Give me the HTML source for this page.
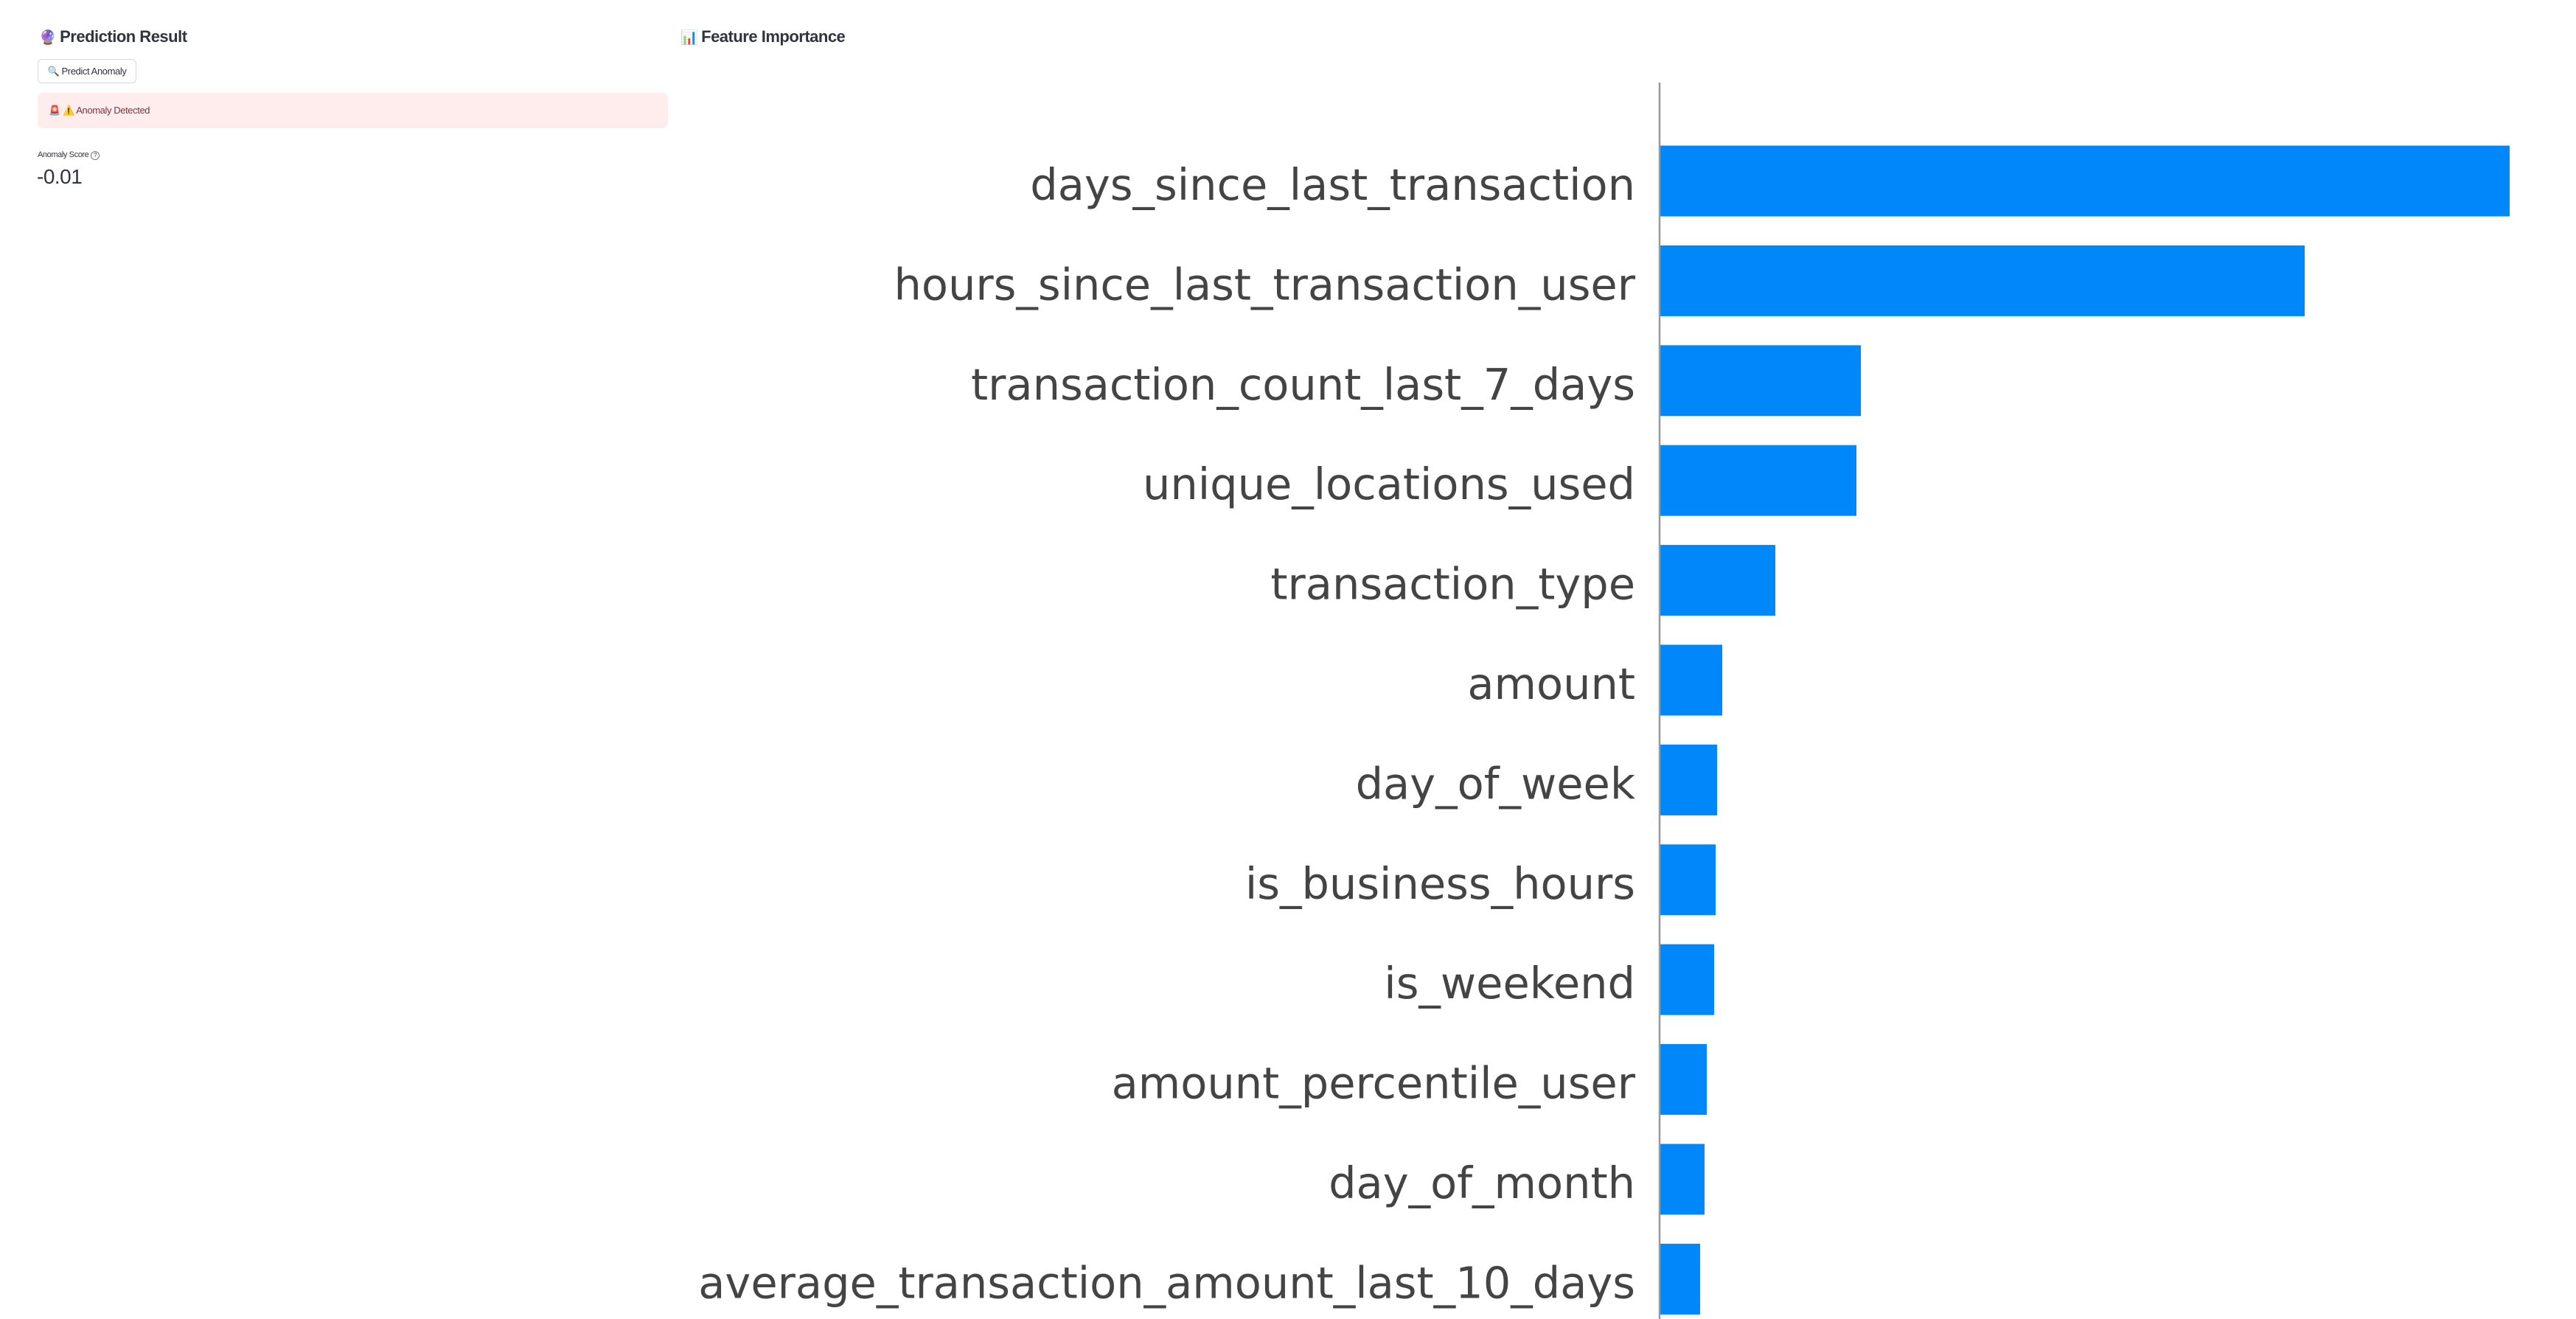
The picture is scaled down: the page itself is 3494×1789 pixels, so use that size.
<!DOCTYPE html>
<html>
<head>
<meta charset="utf-8">
<style>
  html,body{margin:0;padding:0;background:#fff;}
  body{width:3494px;height:1789px;position:relative;overflow:hidden;font-family:"Liberation Sans",sans-serif;color:#31333f;}
  .abs{position:absolute;}
  h2{margin:0;font-weight:600;font-size:22px;letter-spacing:-0.5px;}
</style>
</head>
<body>
<div class="abs" style="left:53px;top:34px;height:32px;line-height:32px;">
  <span style="font-size:19px;">🔮</span>
  <h2 style="display:inline;">Prediction Result</h2>
</div>
<div class="abs" style="left:51px;top:80px;width:132px;height:31px;border:1px solid #d6d6d9;border-radius:6px;font-size:13px;line-height:31px;text-align:center;letter-spacing:-0.4px;">🔍 Predict Anomaly</div>
<div class="abs" style="left:51px;top:126px;width:855px;height:48px;background:#ffecec;border-radius:7px;font-size:13px;line-height:48px;color:#7d353b;letter-spacing:-0.4px;">
  <span style="margin-left:15px;">🚨 ⚠️ Anomaly Detected</span>
</div>
<div class="abs" style="left:51px;top:200px;font-size:11px;line-height:20px;letter-spacing:-0.4px;">Anomaly Score <span style="display:inline-block;width:10px;height:10px;border:1px solid #777;border-radius:50%;font-size:8px;line-height:10px;text-align:center;">?</span></div>
<div class="abs" style="left:50px;top:221px;font-size:28px;line-height:38px;letter-spacing:-0.5px;">-0.01</div>

<div class="abs" style="left:923px;top:34px;height:32px;line-height:32px;">
  <span style="font-size:19px;">📊</span>
  <h2 style="display:inline;">Feature Importance</h2>
</div>

<svg class="abs" style="left:0;top:0;" width="3494" height="1789" id="chart"></svg>
<script>
const features = ["days_since_last_transaction","hours_since_last_transaction_user","transaction_count_last_7_days","unique_locations_used","transaction_type","amount","day_of_week","is_business_hours","is_weekend","amount_percentile_user","day_of_month","average_transaction_amount_last_10_days"];
const importance = [0.1153,0.0875,0.0273,0.0267,0.0157,0.0085,0.0078,0.0076,0.0074,0.0064,0.0061,0.0055];

const NS="http://www.w3.org/2000/svg";
const svg=document.getElementById('chart');
const x0=2251, pxPerUnit=10000;
const y0=245.5, step=135.4, barH=96;
function xScale(v){return x0+v*pxPerUnit;}
function yScale(i){return y0+i*step;}

features.forEach((f,i)=>{
  const r=document.createElementNS(NS,'rect');
  r.setAttribute('x',x0);
  r.setAttribute('y',yScale(i)-barH/2);
  r.setAttribute('width',xScale(importance[i])-x0);
  r.setAttribute('height',barH);
  r.setAttribute('fill','#0088fa');
  
  
  svg.appendChild(r);
  const t=document.createElementNS(NS,'text');
  t.setAttribute('x',2218);
  t.setAttribute('y',yScale(i)+5);
  t.setAttribute('text-anchor','end');
  t.setAttribute('dominant-baseline','central');
  t.setAttribute('font-family','DejaVu Sans, sans-serif');
  t.setAttribute('font-size','59');
  t.setAttribute('fill','#444');
  t.textContent=f;
  
  
  svg.appendChild(t);
});
const ax=document.createElementNS(NS,'line');
ax.setAttribute('x1',x0);ax.setAttribute('x2',x0);
ax.setAttribute('y1',112);ax.setAttribute('y2',1789);
ax.setAttribute('stroke','#999');ax.setAttribute('stroke-width','2.5');


svg.appendChild(ax);
</script>
</body>
</html>
